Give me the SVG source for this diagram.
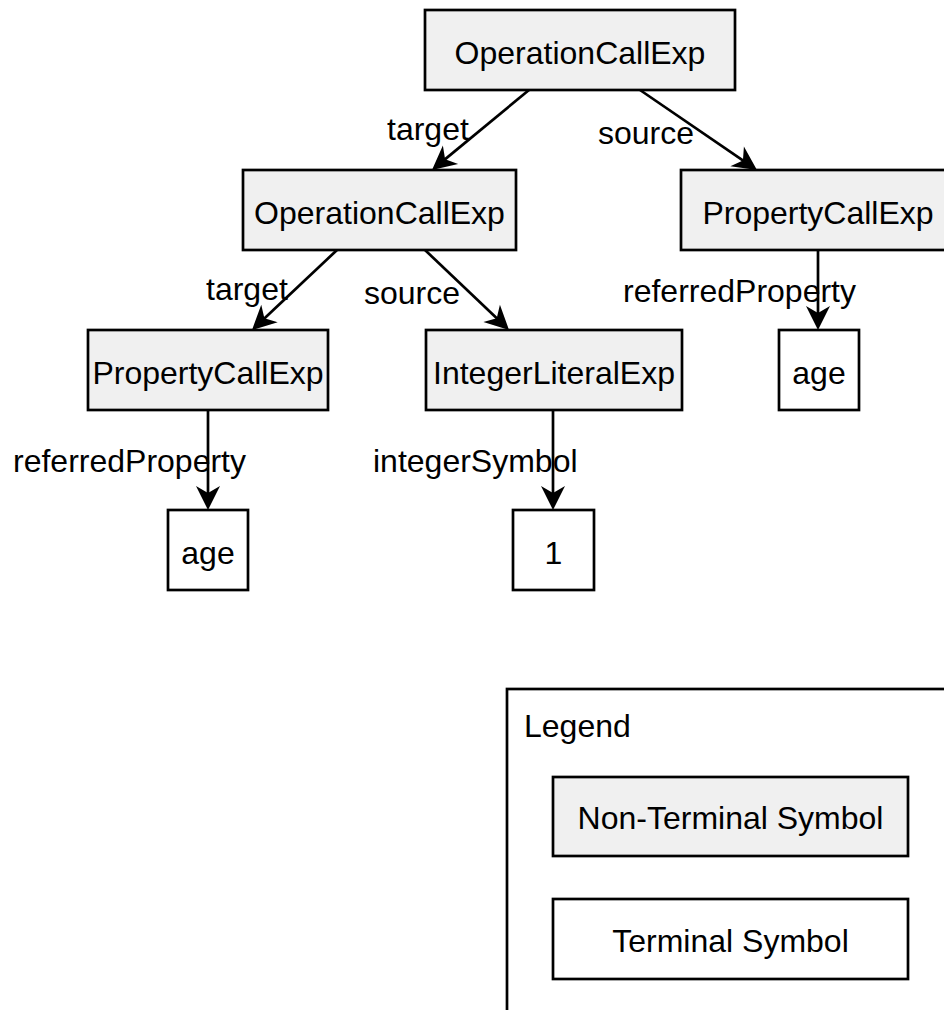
<svg xmlns="http://www.w3.org/2000/svg" width="944" height="1010" viewBox="0 0 944 1010">
  <style>
    .nt { fill: #f0f0f0; stroke: #000; stroke-width: 2.7; }
    .t { fill: #fff; stroke: #000; stroke-width: 2.7; }
    .lbl { font-family: "Liberation Sans", Arial, sans-serif; font-size: 32px; fill: #000; }
    .mid { text-anchor: middle; }
    .edge { fill: none; stroke: #000; stroke-width: 2.7; marker-end: url(#arrow); }
  </style>
  <defs>
    <marker id="arrow" viewBox="-12 -13 28 26" markerWidth="28" markerHeight="26" refX="0" refY="0" orient="auto" markerUnits="userSpaceOnUse">
      <path d="M14,0 L-10,-12 L-3,0 L-10,12 Z" fill="#000"/>
    </marker>
  </defs>

  <!-- connectors -->
  <g id="connectors">
    <line class="edge" x1="529" y1="90" x2="442.8" y2="161.1"/>
    <line class="edge" x1="640" y1="90" x2="745.4" y2="162.1"/>
    <line class="edge" x1="337" y1="250" x2="262.2" y2="320.4"/>
    <line class="edge" x1="425" y1="250" x2="498.9" y2="320.3"/>
    <line class="edge" x1="818" y1="250" x2="818" y2="316"/>
    <line class="edge" x1="208" y1="410" x2="208" y2="496"/>
    <line class="edge" x1="553" y1="410" x2="553" y2="496"/>
  </g>

  <!-- nodes -->
  <g id="op-root">
    <rect class="nt" x="425" y="10" width="310" height="80"/>
    <text class="lbl mid" x="580" y="64">OperationCallExp</text>
  </g>
  <g id="op-inner">
    <rect class="nt" x="243" y="170" width="273" height="80"/>
    <text class="lbl mid" x="379.5" y="224">OperationCallExp</text>
  </g>
  <g id="prop-right">
    <rect class="nt" x="681" y="170" width="274" height="80"/>
    <text class="lbl mid" x="818" y="224">PropertyCallExp</text>
  </g>
  <g id="prop-left">
    <rect class="nt" x="88" y="330" width="240" height="80"/>
    <text class="lbl mid" x="208" y="384">PropertyCallExp</text>
  </g>
  <g id="int-literal">
    <rect class="nt" x="426" y="330" width="256" height="80"/>
    <text class="lbl mid" x="554" y="384">IntegerLiteralExp</text>
  </g>
  <g id="age-right">
    <rect class="t" x="779" y="330" width="80" height="80"/>
    <text class="lbl mid" x="819" y="384">age</text>
  </g>
  <g id="age-left">
    <rect class="t" x="168" y="510" width="80" height="80"/>
    <text class="lbl mid" x="208" y="564">age</text>
  </g>
  <g id="one">
    <rect class="t" x="513" y="510" width="81" height="80"/>
    <text class="lbl mid" x="553.5" y="564">1</text>
  </g>

  <!-- edge labels -->
  <g id="edge-labels">
    <text class="lbl" x="387" y="140">target</text>
    <text class="lbl" x="598" y="144">source</text>
    <text class="lbl" x="206" y="300">target</text>
    <text class="lbl" x="364" y="304">source</text>
    <text class="lbl" x="623" y="302">referredProperty</text>
    <text class="lbl" x="13" y="472">referredProperty</text>
    <text class="lbl" x="373" y="472">integerSymbol</text>
  </g>

  <!-- legend -->
  <g id="legend">
    <rect x="507" y="689" width="460" height="340" fill="#fff" stroke="#000" stroke-width="2.7"/>
    <text class="lbl" x="524" y="737">Legend</text>
    <rect class="nt" x="553" y="777" width="355" height="79"/>
    <text class="lbl mid" x="730.5" y="829">Non-Terminal Symbol</text>
    <rect class="t" x="553" y="899" width="355" height="80"/>
    <text class="lbl mid" x="730.5" y="952">Terminal Symbol</text>
  </g>
</svg>
